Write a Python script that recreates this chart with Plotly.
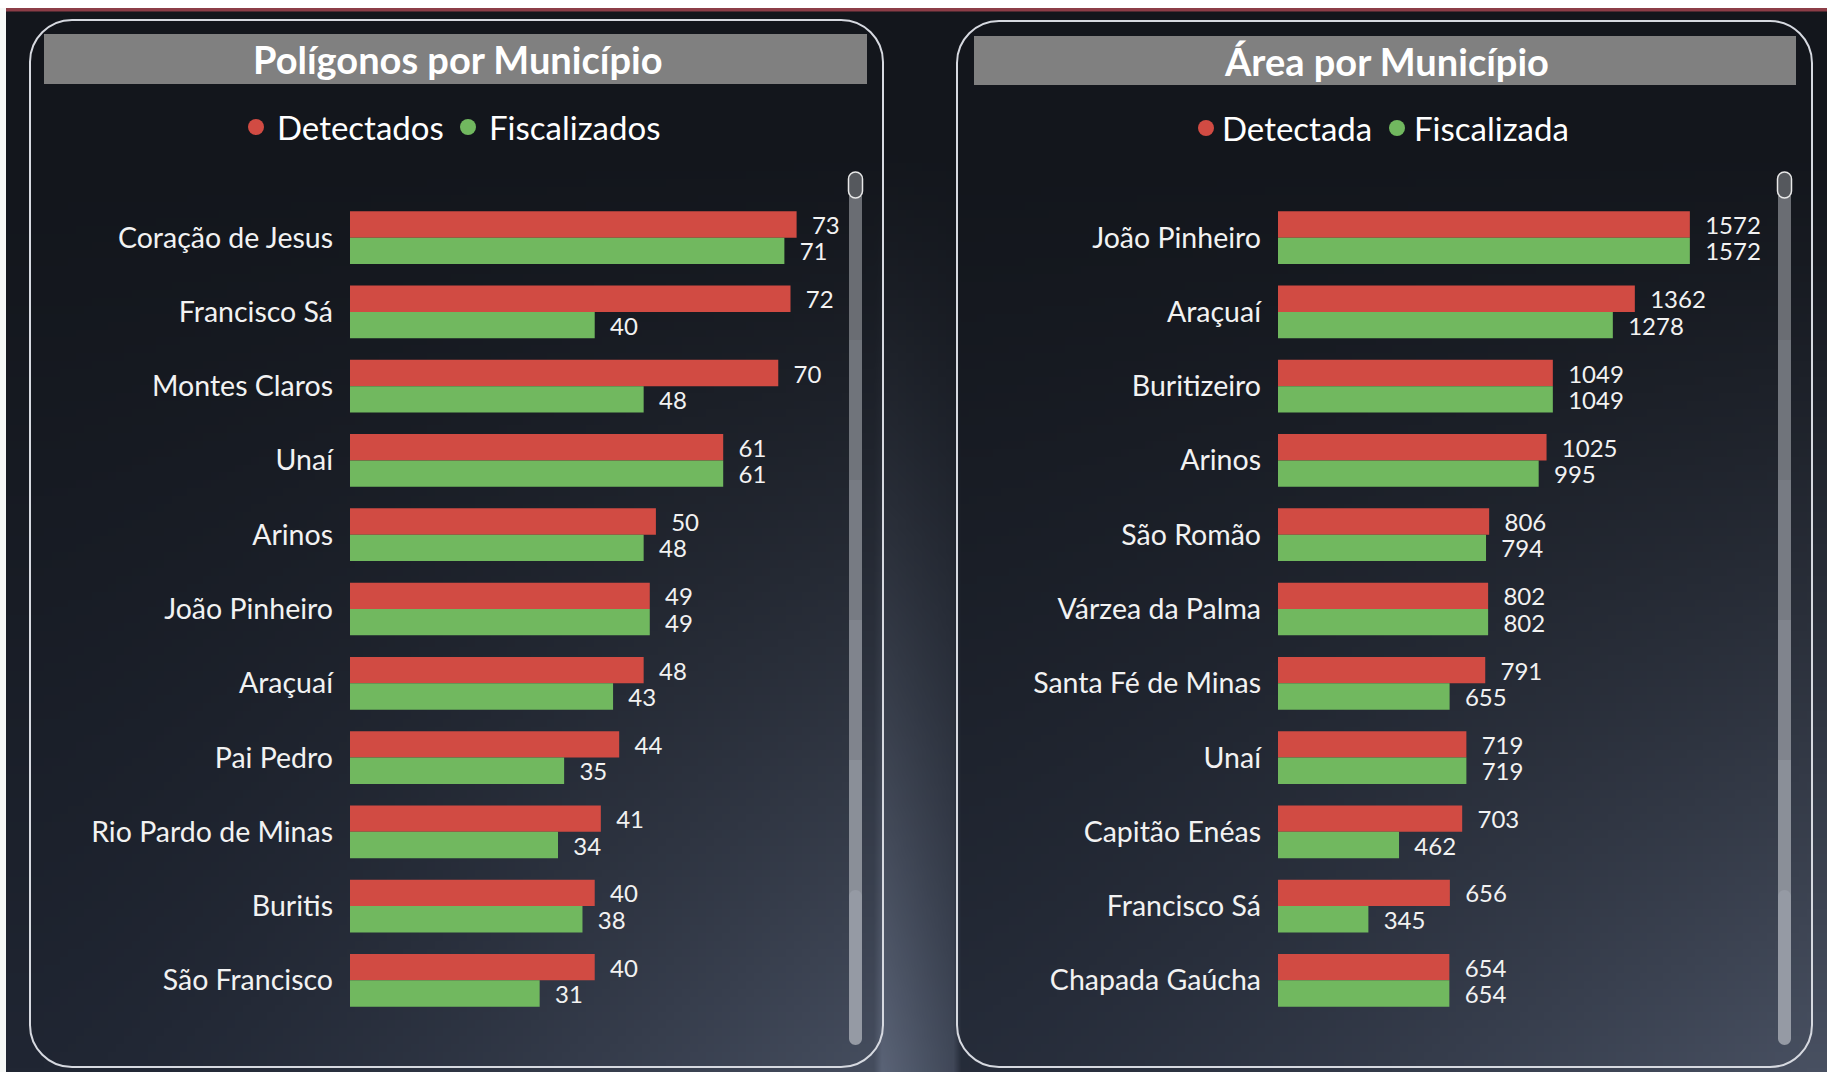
import base64, struct, zlib
import plotly.graph_objects as go

W, H = 1827, 1072

# ---------------- data ----------------
left_title = "Polígonos por Município"
left_series = ["Detectados", "Fiscalizados"]
left_cats = ["Coração de Jesus", "Francisco Sá", "Montes Claros", "Unaí", "Arinos",
             "João Pinheiro", "Araçuaí", "Pai Pedro", "Rio Pardo de Minas", "Buritis",
             "São Francisco"]
left_detect = [73, 72, 70, 61, 50, 49, 48, 44, 41, 40, 40]
left_fisc = [71, 40, 48, 61, 48, 49, 43, 35, 34, 38, 31]

right_title = "Área por Município"
right_series = ["Detectada", "Fiscalizada"]
right_cats = ["João Pinheiro", "Araçuaí", "Buritizeiro", "Arinos", "São Romão",
              "Várzea da Palma", "Santa Fé de Minas", "Unaí", "Capitão Enéas",
              "Francisco Sá", "Chapada Gaúcha"]
right_detect = [1572, 1362, 1049, 1025, 806, 802, 791, 719, 703, 656, 654]
right_fisc = [1572, 1278, 1049, 995, 794, 802, 655, 719, 462, 345, 654]

RED = "#D14B43"
GREEN = "#71B85F"
FONT = "Lato"
TXT = "#F2F2F2"


def px(x):
    return x / W


def py(y):
    return 1 - y / H


# ---------------- background gradient image ----------------
def clamp(v, a=0.0, b=1.0):
    return max(a, min(b, v))


def bg_color(x, y):
    t = y / H
    s = clamp((t - 0.12) / 0.88) ** 1.25
    top = (19, 22, 28)
    c = [top[i] + s * (13, 16, 23)[i] for i in range(3)]
    if x < 883:
        u = clamp((x - 30) / 853)
        c = [c[i] + s * (u ** 1.4) * (38, 40, 44)[i] for i in range(3)]
    elif x < 957:
        g = clamp(1 - (x - 885) / 72)
        c = [c[i] + s * (0.55 + 0.45 * g) * (58, 61, 67)[i] for i in range(3)]
    else:
        u = clamp((x - 957) / 855)
        c = [c[i] + s * (0.15 + 0.85 * u ** 1.3) * (40, 42, 46)[i] for i in range(3)]
    return tuple(int(clamp(v, 0, 255)) for v in c)


def make_png(w, h, step):
    raw = b""
    for j in range(h):
        row = b"\x00"
        for i in range(w):
            r, g, b = bg_color(i * step + step / 2, j * step + step / 2)
            row += bytes((r, g, b))
        raw += row

    def chunk(tag, data):
        c = struct.pack(">I", len(data)) + tag + data
        return c + struct.pack(">I", zlib.crc32(tag + data) & 0xFFFFFFFF)

    png = b"\x89PNG\r\n\x1a\n"
    png += chunk(b"IHDR", struct.pack(">IIBBBBB", w, h, 8, 2, 0, 0, 0))
    png += chunk(b"IDAT", zlib.compress(raw, 9))
    png += chunk(b"IEND", b"")
    return "data:image/png;base64," + base64.b64encode(png).decode()


STEP = 8
bg_src = make_png(W // STEP + 1, H // STEP + 1, STEP)


def rrect_path(x0, y0, x1, y1, r):
    k = 0.5523 * r
    P = lambda x, y: f"{px(x):.5f},{py(y):.5f}"
    return (f"M{P(x0 + r, y0)} L{P(x1 - r, y0)} "
            f"C{P(x1 - r + k, y0)} {P(x1, y0 + r - k)} {P(x1, y0 + r)} "
            f"L{P(x1, y1 - r)} "
            f"C{P(x1, y1 - r + k)} {P(x1 - r + k, y1)} {P(x1 - r, y1)} "
            f"L{P(x0 + r, y1)} "
            f"C{P(x0 + r - k, y1)} {P(x0, y1 - r + k)} {P(x0, y1 - r)} "
            f"L{P(x0, y0 + r)} "
            f"C{P(x0, y0 + r - k)} {P(x0 + r - k, y0)} {P(x0 + r, y0)} Z")


# ---------------- figure ----------------
fig = go.Figure()

common = dict(orientation="h", textposition="outside", constraintext="none",
              cliponaxis=False, texttemplate="\u00a0\u00a0%{x}",
              textfont=dict(family=FONT, size=24, color=TXT),
              marker_line_width=0, showlegend=False, hoverinfo="x+y")

fig.add_trace(go.Bar(y=left_cats, x=left_detect, name=left_series[0],
                     marker_color=RED, xaxis="x", yaxis="y", **common))
fig.add_trace(go.Bar(y=left_cats, x=left_fisc, name=left_series[1],
                     marker_color=GREEN, xaxis="x", yaxis="y", **common))
fig.add_trace(go.Bar(y=right_cats, x=right_detect, name=right_series[0],
                     marker_color=RED, xaxis="x2", yaxis="y2", **common))
fig.add_trace(go.Bar(y=right_cats, x=right_fisc, name=right_series[1],
                     marker_color=GREEN, xaxis="x2", yaxis="y2", **common))

ydom = [1 - 1017.5 / H, 1 - 200.5 / H]
yax = dict(type="category", autorange="reversed", domain=ydom, showgrid=False,
           showline=False, zeroline=False, ticks="", ticklabelstandoff=16,
           tickfont=dict(family=FONT, size=28.5, color=TXT), fixedrange=True)
xax = dict(visible=False, showgrid=False, zeroline=False, fixedrange=True)

fig.update_layout(
    width=W, height=H,
    margin=dict(l=0, r=0, t=0, b=0),
    paper_bgcolor="#14171d", plot_bgcolor="rgba(0,0,0,0)",
    barmode="group", bargap=0.29, bargroupgap=0,
    xaxis=dict(domain=[350 / W, (350 + 80 * 6.118) / W], range=[0, 80], anchor="y", **xax),
    yaxis=dict(anchor="x", **yax),
    xaxis2=dict(domain=[1278 / W, (1278 + 1750 * 0.262) / W], range=[0, 1750], anchor="y2", **xax),
    yaxis2=dict(anchor="x2", **yax),
    images=[dict(source=bg_src, xref="paper", yref="paper", x=0, y=1, sizex=1, sizey=1,
                 sizing="stretch", xanchor="left", yanchor="top", layer="below")],
)

shapes = []
# white page edges and red top line
shapes.append(dict(type="rect", xref="paper", yref="paper", x0=0, x1=1, y0=py(8), y1=1,
                   fillcolor="#FFFFFF", line_width=0, layer="above"))
shapes.append(dict(type="rect", xref="paper", yref="paper", x0=0, x1=1, y0=py(11.5), y1=py(8),
                   fillcolor="#8C3D47", line_width=0, layer="above"))
shapes.append(dict(type="rect", xref="paper", yref="paper", x0=0, x1=px(6), y0=0, y1=py(8),
                   fillcolor="#F6F8F6", line_width=0, layer="above"))

panels = [
    dict(box=(30, 20, 883, 1067), bar=(44, 34, 867, 84), scroll=(849, 862)),
    dict(box=(957, 21, 1812, 1067), bar=(974, 36, 1796, 85), scroll=(1778, 1791)),
]
for p in panels:
    x0, y0, x1, y1 = p["box"]
    shapes.append(dict(type="path", xref="paper", yref="paper",
                       path=rrect_path(x0, y0, x1, y1, 42),
                       line=dict(color="#D6D9E0", width=2), fillcolor="rgba(0,0,0,0)",
                       layer="below"))
    bx0, by0, bx1, by1 = p["bar"]
    shapes.append(dict(type="rect", xref="paper", yref="paper", x0=px(bx0), x1=px(bx1),
                       y0=py(by1), y1=py(by0), fillcolor="#808080", line_width=0,
                       layer="below"))
    sx0, sx1 = p["scroll"]
    track_cols = ["#6A6D73", "#70747B", "#777B83", "#80848D", "#8A8F98", "#959AA4"]
    ys = [196, 340, 480, 620, 760, 900, 1045]
    for i, c in enumerate(track_cols):
        ya, yb = ys[i], ys[i + 1]
        if i == len(track_cols) - 1:
            shapes.append(dict(type="path", xref="paper", yref="paper",
                               path=rrect_path(sx0, ya - 10, sx1, yb, 6.5),
                               fillcolor=c, line_width=0, layer="below"))
        else:
            shapes.append(dict(type="rect", xref="paper", yref="paper", x0=px(sx0), x1=px(sx1),
                               y0=py(yb), y1=py(ya), fillcolor=c, line_width=0, layer="below"))
    shapes.append(dict(type="path", xref="paper", yref="paper",
                       path=rrect_path(sx0 - 0.5, 172, sx1 + 0.5, 198, 7),
                       fillcolor="#55585D", line=dict(color="#E8E8E8", width=1.5),
                       layer="below"))

annotations = []
for title, cx, cy in [(left_title, 457, 59), (right_title, 1386, 61)]:
    annotations.append(dict(text=f"<b>{title}</b>", x=px(cx), y=py(cy), xref="paper",
                            yref="paper", showarrow=False, xanchor="center", yanchor="middle",
                            font=dict(family=FONT, size=38, color="#FFFFFF")))

legends = [
    (left_series, [(256, 275), (468, 487)], 127),
    (right_series, [(1206, 1220), (1397, 1412)], 128),
]
for names, pos, ly in legends:
    for name, (cxp, tx), col in zip(names, pos, [RED, GREEN]):
        shapes.append(dict(type="circle", xref="paper", yref="paper",
                           x0=px(cxp - 8), x1=px(cxp + 8), y0=py(ly + 8), y1=py(ly - 8),
                           fillcolor=col, line_width=0, layer="above"))
        annotations.append(dict(text=name, x=px(tx), y=py(ly), xref="paper", yref="paper",
                                showarrow=False, xanchor="left", yanchor="middle",
                                font=dict(family=FONT, size=33, color="#FFFFFF")))

fig.update_layout(shapes=shapes, annotations=annotations)

fig.write_html("out.html", config={"displayModeBar": False},
               post_script="document.body.style.margin='0px';document.body.style.overflow='hidden';")
